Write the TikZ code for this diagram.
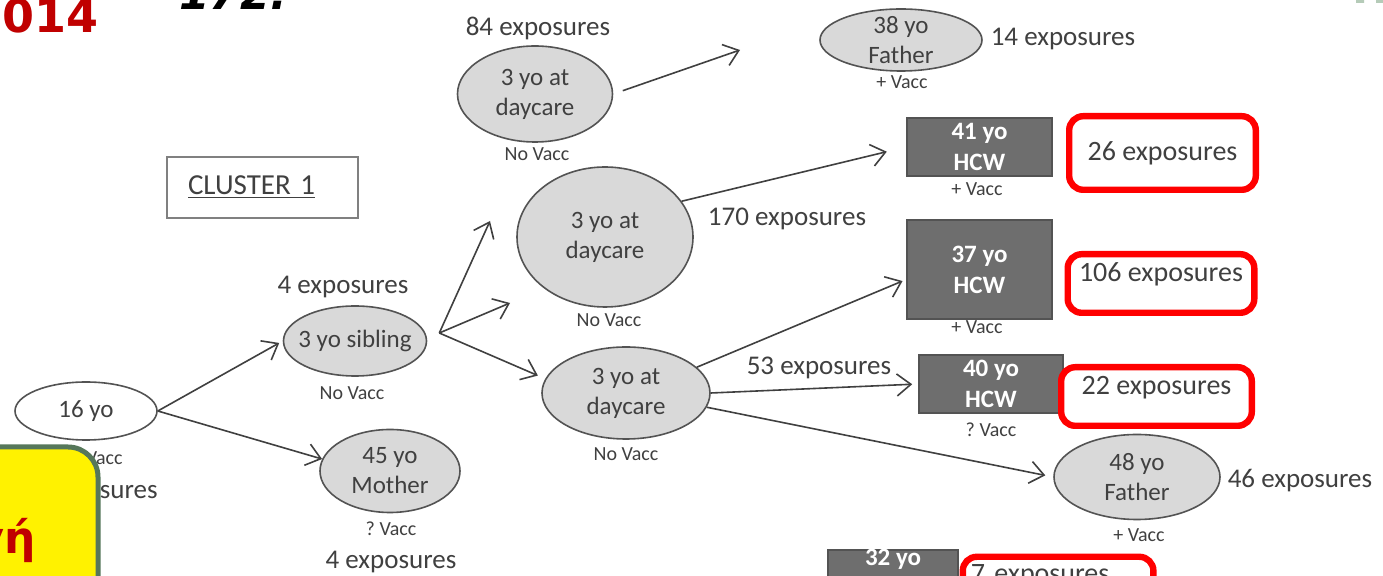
\documentclass[tikz,border=0pt]{standalone}
\usepackage{fontspec}
\setmainfont{Carlito}
\newfontfamily\slidefont{DejaVu Sans}
\usetikzlibrary{shapes.geometric,positioning,arrows.meta}
\frenchspacing

\definecolor{ink}{HTML}{404040}
\definecolor{cell}{HTML}{D9D9D9}
\definecolor{hcwgray}{HTML}{6E6E6E}
\definecolor{slidered}{HTML}{C00000}
\definecolor{boxgreen}{HTML}{56775A}
\definecolor{tabgreen}{HTML}{B5CBB8}

\begin{document}
\begin{tikzpicture}[x=0.5pt,y=-0.5pt,
  case/.style={ellipse,draw=ink!90,line width=0.8pt,fill=cell,inner sep=-4pt,align=center,text=ink,font=\fontsize{12.5}{15}\selectfont},
  hcw/.style={rectangle,draw=ink!90,line width=0.8pt,fill=hcwgray,inner sep=0pt,align=center,text=white,font=\bfseries\fontsize{12.5}{15.5}\selectfont},
  expo/.style={text=ink,inner sep=0pt,font=\fontsize{13.5}{16}\selectfont},
  vacc/.style={text=ink,inner sep=0pt,font=\fontsize{10}{12}\selectfont},
  warn/.style={rectangle,draw=red,line width=3.2pt,rounded corners=7pt,fill=white,inner sep=0pt,text=ink,font=\fontsize{14}{16}\selectfont},
  link/.style={draw=ink,line width=0.8pt,-{Straight Barb[length=7pt,width=11pt]}}]
\useasboundingbox (0,0) rectangle (1383,576);
\clip (0,0) rectangle (1383,576);
\fill[white] (0,0) rectangle (1383,576);

% slide around the figure
\node[anchor=base east,inner sep=0pt,text=slidered,font=\slidefont\bfseries\fontsize{23}{26}\selectfont] (yr) at (99,33) {2014};
\node[anchor=base east,inner sep=0pt,font=\slidefont\bfseries\itshape\fontsize{22}{26}\selectfont] (pg) at (288,10) {172.};
\fill[tabgreen] (1356,0) rectangle (1364,3) (1376,0) rectangle (1383,3);

\node[draw=gray,line width=0.7pt,text width=74.5pt,inner xsep=10.5pt,minimum height=30.5pt,align=left,text=ink,font=\fontsize{14.5}{16}\selectfont] (c1) at (262.5,187.5) {\underline{CLUSTER 1}};

% cases
\node[case,fill=white,minimum width=71pt,minimum height=29pt] (k) at (86,411) {16 yo};
\node[case,minimum width=71.5pt,minimum height=35pt] (s) at (355,341) {3 yo sibling};
\node[case,minimum width=70pt,minimum height=41.5pt] (mo) at (390,471) {45 yo\\Mother};
\node[case,minimum width=77.5pt,minimum height=48pt] (d1) at (535,94) {3 yo at\\daycare};
\node[case,minimum width=88pt,minimum height=70pt] (d2) at (605,237) {3 yo at\\daycare};
\node[case,minimum width=84pt,minimum height=46pt] (d3) at (626,393) {3 yo at\\daycare};
\node[case,minimum width=81pt,minimum height=31pt] (f1) at (901,40) {38 yo\\Father};
\node[case,minimum width=83pt,minimum height=42.5pt] (f2) at (1137,477) {48 yo\\Father};

\node[hcw,minimum width=72.5pt,minimum height=29pt] (h1) at (979.5,147) {41 yo\\HCW};
\node[hcw,minimum width=72.5pt,minimum height=49.5pt] (h2) at (979.5,269.5) {37 yo\\HCW};
\node[hcw,minimum width=72pt,minimum height=29pt] (h3) at (991,384) {40 yo\\HCW};
\node[hcw,anchor=north,minimum width=65pt,text height=8pt,text depth=28pt] (h4) at (893,549) {32 yo};

\node[warn,minimum width=93.3pt,minimum height=36.8pt] (e1) at (1162.5,153) {26 exposures};
\node[warn,minimum width=93.3pt,minimum height=29.3pt,text depth=11pt] (e2) at (1161,283.5) {106 exposures};
\node[warn,minimum width=95.3pt,minimum height=29.3pt,text depth=11pt] (e3) at (1156.5,396.5) {22 exposures};
\node[warn,anchor=north west,inner xsep=4pt,text width=87.3pt,align=left,text height=13pt,text depth=20pt] (e4) at (959.6,553.6) {7 exposures};

% labels
\foreach \i/\p/\t in {1/{538,28}/84 exposures, 2/{343,287}/4 exposures, 3/{391,562}/4 exposures,
    4/{787,219}/170 exposures, 5/{819,368}/53 exposures, 6/{1063,39}/14 exposures, 7/{1300,481}/46 exposures}
  \node[expo] (x\i) at (\p) {\t};
\node[expo,anchor=east] (x0) at (158,494) {exposures};
\foreach \i/\p/\t in {1/{352,393}/No Vacc, 2/{391,529}/? Vacc, 3/{537,154}/No Vacc, 4/{609,320}/No Vacc,
    5/{626,454}/No Vacc, 6/{902,82}/+ Vacc, 7/{977,189}/+ Vacc, 8/{977,327}/+ Vacc, 9/{991,430}/? Vacc, 10/{1139,535}/+ Vacc}
  \node[vacc] (v\i) at (\p) {\t};
\node[vacc,anchor=east] (v0) at (123,458) {Vacc};

% spread
\coordinate (fk) at ([xshift=6pt,yshift=4pt]s.east);
\coordinate (u1) at (490,221);
\coordinate (u2) at (510,303);
\coordinate (u3) at (740,50);
\draw[link,shorten >=2pt] (k.east) -- (s.west);
\draw[link] (k.east) -- (mo.170);
\draw[link] (fk) -- (u1);
\draw[link] (fk) -- (u2);
\draw[link,shorten >=4pt] (fk) -- (d3.170);
\draw[link,shorten <=5pt] (d1.east) -- (u3);
\draw[link,shorten >=10pt] (d2.25) -- (h1.west);
\draw[link,shorten >=2pt] (d3.20) -- ([yshift=-5pt]h2.west);
\draw[link,shorten >=3pt] (d3.east) -- (h3.west);
\draw[link,shorten >=4pt] (d3.-10) -- (f2.west);

% slide box in front
\draw[boxgreen,fill=yellow,line width=2.5pt,rounded corners=15pt] (-60,447) rectangle (98,640);
\node[anchor=base east,inner sep=0pt,text=slidered,font=\slidefont\bfseries\fontsize{22}{26}\selectfont] (gh) at (36,554) {γή};
\end{tikzpicture}
\end{document}
